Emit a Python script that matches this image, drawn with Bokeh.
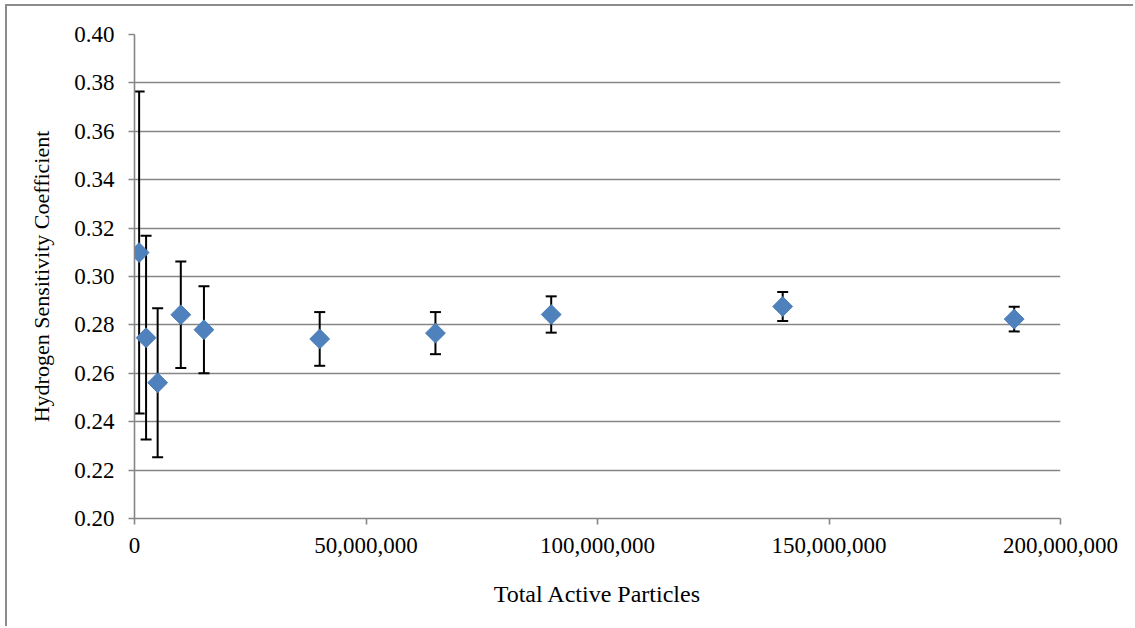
from bokeh.plotting import figure
from bokeh.models import FixedTicker, NumeralTickFormatter, Range1d, ColumnDataSource
from bokeh.embed import file_html
from bokeh.resources import INLINE
import numpy as np

# Sensitivity coefficient vs. number of active particles, with +/- error
particles = [1_000_000, 2_500_000, 5_000_000, 10_000_000, 15_000_000,
             40_000_000, 65_000_000, 90_000_000, 140_000_000, 190_000_000]
coefficient = [0.3099, 0.2747, 0.2561, 0.2842, 0.2780,
               0.2742, 0.2766, 0.2843, 0.2876, 0.2824]
error = [0.0665, 0.0421, 0.0308, 0.0220, 0.0180,
         0.0111, 0.0087, 0.0075, 0.0060, 0.0051]

x_ticks = [0, 50_000_000, 100_000_000, 150_000_000, 200_000_000]
y_ticks = [0.20, 0.22, 0.24, 0.26, 0.28, 0.30, 0.32, 0.34, 0.36, 0.38, 0.40]

FONT = "Liberation Serif"
GRID = "#868686"

coef = np.array(coefficient)
err = np.array(error)
src = ColumnDataSource(dict(x=particles, y=coef, lo=coef - err, hi=coef + err))

p = figure(width=1128, height=622, output_backend="svg", toolbar_location=None,
           x_range=Range1d(0, 200_000_000), y_range=Range1d(0.20, 0.40),
           min_border_left=127, min_border_right=75,
           min_border_top=28, min_border_bottom=110)
p.margin = (4, 0, 0, 5)
p.styles = {"border-left": "2px solid #8c8c8c", "border-top": "2px solid #8c8c8c"}
p.outline_line_color = None
p.background_fill_color = "white"
p.border_fill_color = "white"

# grid: horizontal lines only
p.xgrid.visible = False
p.ygrid.ticker = FixedTicker(ticks=y_ticks)
p.ygrid.grid_line_color = GRID
p.ygrid.grid_line_width = 1.6

for ax in (p.xaxis, p.yaxis):
    ax.axis_line_color = GRID
    ax.axis_line_width = 1.6
    ax.major_tick_line_color = GRID
    ax.major_tick_line_width = 1.6
    ax.major_tick_out = 6
    ax.major_tick_in = 0
    ax.minor_tick_line_color = None
    ax.major_label_text_font = FONT
    ax.major_label_text_font_size = "23px"
    ax.major_label_text_color = "black"
    ax.axis_label_text_font = FONT
    ax.axis_label_text_font_style = "normal"
    ax.axis_label_text_color = "black"

p.xaxis.ticker = FixedTicker(ticks=x_ticks)
p.xaxis.formatter = NumeralTickFormatter(format="0,0")
p.xaxis.major_label_standoff = 13
p.xaxis.axis_label = "Total Active Particles"
p.xaxis.axis_label_text_font_size = "24px"
p.xaxis.axis_label_standoff = 25

p.yaxis.ticker = FixedTicker(ticks=y_ticks)
p.yaxis.formatter = NumeralTickFormatter(format="0.00")
p.yaxis.major_label_standoff = 14
p.yaxis.axis_label = "Hydrogen Sensitivity Coefficient"
p.yaxis.axis_label_text_font_size = "22px"
p.yaxis.axis_label_standoff = 17

# error bars with caps, drawn beneath the markers
p.segment(x0="x", y0="lo", x1="x", y1="hi", source=src, line_color="black", line_width=2)
p.scatter(x="x", y="hi", source=src, marker="dash", size=11, line_color="black", line_width=2)
p.scatter(x="x", y="lo", source=src, marker="dash", size=11, line_color="black", line_width=2)

# diamond markers
p.scatter(x="x", y="y", source=src, marker="square", angle=np.pi / 4, size=14,
          fill_color="#4f81bd", line_color="#4a7dba", line_width=1)

open("out.html", "w").write(file_html(p, INLINE))
